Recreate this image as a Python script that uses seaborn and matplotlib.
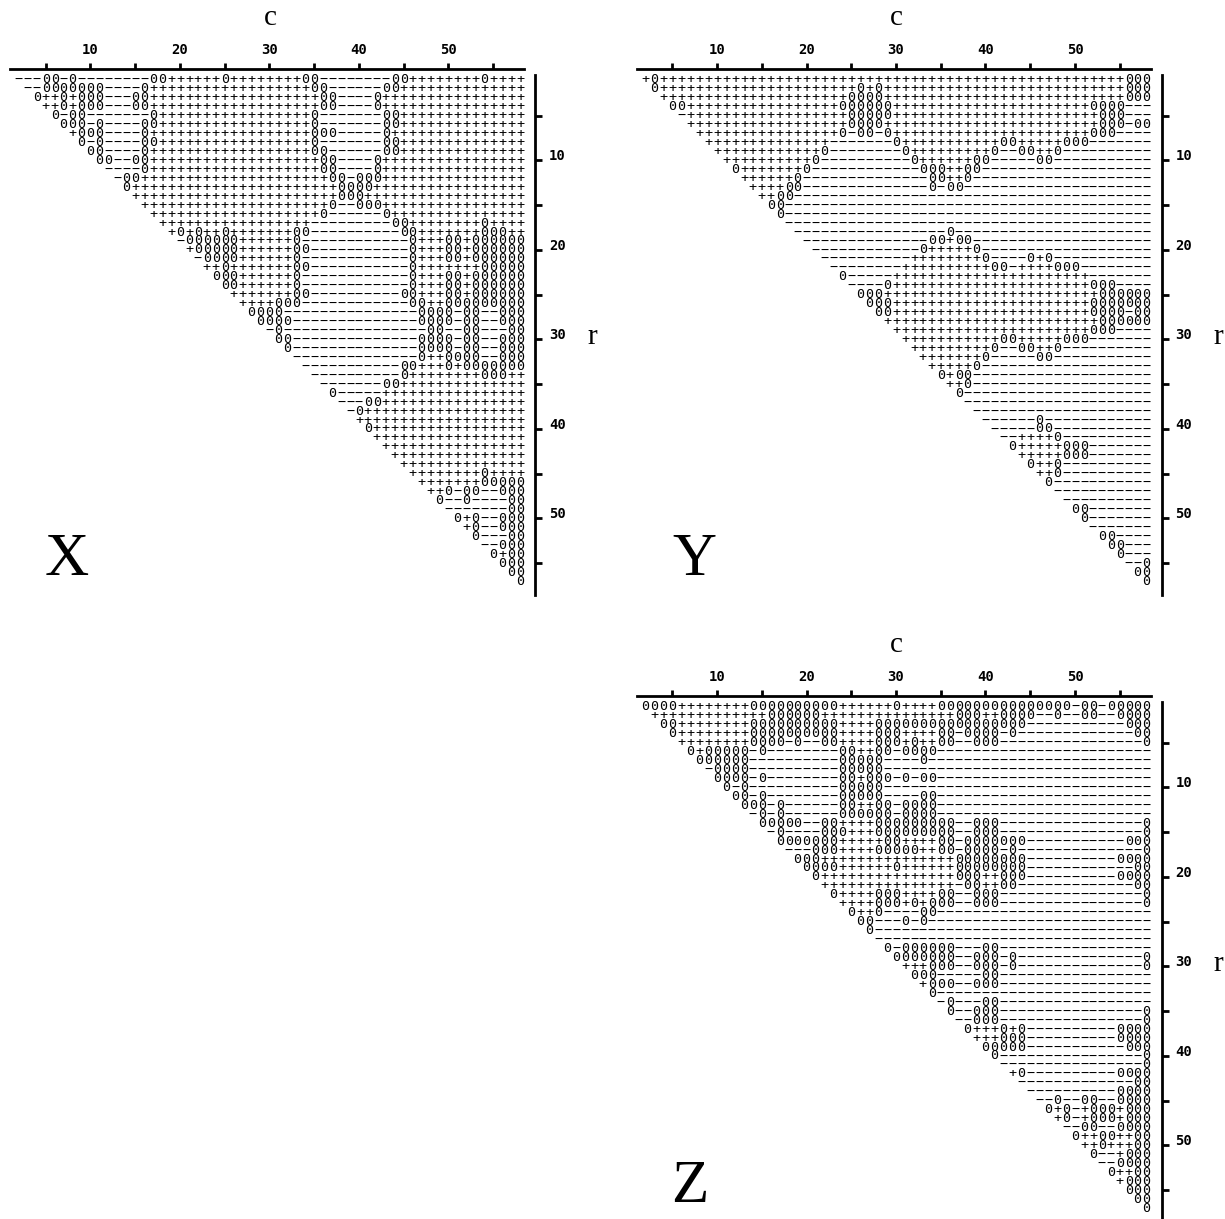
# Sign patterns of X, Y and Z over the upper triangle (r, c)
import numpy as np
import pandas as pd
import seaborn as sns
import matplotlib.pyplot as plt
from matplotlib.colors import ListedColormap

# each row is a list of runs: symbol then repeat count, row r starts at c = r + 1
x_rows = [
    "-3 02 -1 01 -8 02 +6 01 +8 02 -8 02 +8 01 +4", "-2 07 -4 01 +18 02 -6 02 +14",
    "01 +2 01 +1 03 -3 02 +19 02 -4 01 +16", "+2 01 +1 03 -3 02 +19 02 -4 01 +16",
    "01 -1 02 -7 01 +17 01 -7 02 +14", "03 -1 01 -4 02 +17 01 -7 02 +14",
    "+1 03 -4 01 +18 03 -5 01 +15", "01 -1 01 -4 02 +17 01 -7 02 +14",
    "02 -4 01 +18 02 -6 02 +14", "02 -2 02 +19 02 -4 01 +16",
    "-4 01 +19 02 -4 01 +16", "-1 02 +21 02 -1 03 +16",
    "01 +23 04 +17", "+23 03 +18", "+21 01 -2 03 +16", "+19 01 -6 01 +15",
    "+17 -9 02 +8 01 +4", "+1 01 +1 01 +2 01 +7 02 -10 02 +7 03 +2",
    "-1 06 +6 01 -12 01 +3 02 +1 06", "+1 05 +6 02 -11 01 +3 02 +1 06",
    "-1 04 +6 01 -12 01 +3 02 +1 06", "+2 01 +7 02 -11 01 +7 05",
    "03 +6 01 -12 01 +3 02 +1 06", "02 +6 01 -12 01 +3 02 +1 06",
    "+7 02 -10 02 +3 02 +1 06", "+4 03 -12 02 +2 09",
    "04 -15 04 -1 02 -2 03", "04 -14 04 -1 02 -2 03",
    "-1 01 -16 02 -2 02 -3 02", "02 -14 04 -1 02 -2 03",
    "01 -14 04 -1 02 -2 03", "-14 01 +2 04 -2 03",
    "-11 02 +3 01 +1 07", "-10 01 +8 03 +2", "-7 02 +14", "01 -5 +16",
    "-3 02 +16", "-1 01 +18", "+19", "01 +17", "+17", "+16", "+15", "+14",
    "+8 01 +4", "+7 05", "+2 01 -1 02 -2 03", "01 -2 01 -4 02", "-7 02",
    "01 +1 01 -2 03", "+1 01 -2 03", "01 -3 02", "-2 03", "01 +1 02", "03", "02", "01",
]
y_rows = [
    "+1 01 +52 03", "01 +22 01 +1 01 +27 03", "+21 04 +27 03", "02 +17 06 +22 04 -3",
    "-1 +18 05 +23 03 -3", "+18 04 +24 03 -1 02", "+16 01 -1 02 -1 01 +22 03 -4",
    "+14 -7 01 +11 02 +5 03 -7", "+12 01 -8 01 +9 01 -2 02 +2 01 -10",
    "+10 01 -10 01 +6 02 -5 02 -11", "01 +7 01 -12 03 +2 02 -19",
    "+6 01 -14 02 +2 01 -20", "+4 02 -14 01 -1 02 -21", "+2 02 -40", "02 -41", "01 -41",
    "-41", "-17 01 -22", "-14 02 +1 02 -20", "-12 01 +5 01 -19",
    "-10 +8 01 -4 01 +1 01 -11", "-8 +10 02 -1 +4 03 -8", "01 -5 +22 -7",
    "-4 01 +22 03 -4", "03 +24 06", "03 +22 07", "02 +22 04 -1 02", "+24 06",
    "+22 03 -4", "+11 02 +5 03 -7", "+9 01 -2 02 +2 01 -10", "+7 01 -5 02 -11",
    "+5 01 -19", "01 +1 02 -20", "+2 01 -20", "01 -21", "-21", "-20",
    "-6 01 -12", "-5 02 -11", "-2 +4 01 -10", "01 +5 03 -7", "+5 03 -7",
    "01 +2 01 -10", "+2 01 -10", "01 -11", "-11", "-10", "02 -7", "01 -7", "-7",
    "02 -4", "02 -3", "01 -3", "-2 01", "02", "01",
]
z_rows = [
    "04 +8 010 +6 01 +4 015 -1 02 -1 05", "+13 06 +15 03 +2 04 -2 01 -2 02 -2 04",
    "02 +8 010 +4 017 -11 03", "01 +8 010 +4 03 +4 02 -1 04 -1 01 -13 02",
    "+8 04 -1 01 -2 02 +4 03 +1 01 +2 02 -2 03 -16 01",
    "01 +1 05 -1 01 -8 02 +2 02 -1 04 -24", "06 -10 05 -4 01 -25", "-1 04 -10 05 -30",
    "04 -1 01 -8 02 +1 03 -1 01 -1 02 -24", "01 -1 01 -10 05 -30",
    "02 -1 01 -8 05 -4 02 -24", "03 -1 01 -6 02 +2 02 -1 04 -24",
    "-1 01 -1 01 -6 06 -1 04 -24", "05 -2 02 +4 09 -2 03 -16 01",
    "-1 01 -4 03 +3 09 -2 03 -16 01", "07 +5 02 +4 02 -1 07 -11 03",
    "-3 03 +4 05 +2 02 -1 04 -1 01 -14 01", "03 +15 08 -10 04",
    "04 +6 01 +6 08 -12 02", "01 +15 03 +2 03 -10 04", "+15 -1 02 +2 02 -13 02",
    "01 +4 03 +4 02 -2 03 -16 01", "+4 03 +1 01 +1 03 -2 03 -16 01",
    "01 +2 01 -4 02 -24", "02 -3 01 -1 01 -25", "01 -31", "-31",
    "01 -1 06 -3 02 -17", "07 -2 03 -1 01 -14 01", "+3 03 -2 03 -1 01 -14 01",
    "03 -5 02 -17", "+1 03 -2 03 -17", "01 -24", "-1 01 -3 02 -17",
    "01 -2 03 -16 01", "-2 03 -16 01", "01 +3 01 +1 01 -10 04", "+3 03 -10 04",
    "05 -11 03", "01 -16 01", "-16 01", "+1 01 -10 04", "-13 02", "-10 04",
    "-2 01 -2 02 -2 04", "01 +1 01 -1 +1 03 +1 03", "+1 01 -1 +1 03 +1 03",
    "-2 02 -2 04", "01 +2 02 +2 02", "+2 01 +3 02", "01 -2 +1 03", "-2 04",
    "01 +2 02", "+1 03", "03", "02", "01",
]
col_ticks = [5, 10, 15, 20, 25, 30, 35, 40, 45, 50, 55]
row_ticks = [5, 10, 15, 20, 25, 30, 35, 40, 45, 50, 55]

sns.set_style('white')
plt.rcParams['font.family'] = ['DejaVu Sans Mono']
plt.rcParams['text.color'] = 'black'
plt.rcParams['xtick.labelcolor'] = 'black'
plt.rcParams['ytick.labelcolor'] = 'black'

W, H = 1225, 1219
sign = {'+': 1, '0': 0, '-': -1}
shown = {'+': '+', '0': '0', '-': '\u2212'}


def sign_table(rows):
    values = np.full((57, 57), np.nan)
    labels = np.full((57, 57), '', dtype=object)
    for i, row in enumerate(rows):
        text = ''.join(tok[0] * int(tok[1:]) for tok in row.split())
        if len(text) != 57 - i:
            raise ValueError(f'row {i + 1} has {len(text)} cells')
        for j, ch in enumerate(text):
            values[i, i + j] = sign[ch]
            labels[i, i + j] = shown[ch]
    table = pd.DataFrame(values, index=range(1, 58), columns=range(2, 59))
    return table, labels


def panel(rows, dx, dy, name, name_xy):
    # axes box in pixels, heatmap cells sit at c - 1.5, r - 0.5
    ax = fig.add_axes([(10 + dx) / W, 1 - (595 + dy) / H, 525 / W, 525.7 / H])
    table, labels = sign_table(rows)
    sns.heatmap(table, annot=labels, fmt='', cmap=ListedColormap(['white']), cbar=False,
                annot_kws={'fontsize': 9.6, 'color': 'black'}, ax=ax)
    ax.set_xlim(-0.49, 58.18)
    ax.set_ylim(58.05, -0.68)
    ax.set_xlabel('')
    ax.set_ylabel('')
    ax.patch.set_alpha(0)

    for side in ['left', 'bottom']:
        ax.spines[side].set_visible(False)
    for side in ['top', 'right']:
        ax.spines[side].set_visible(True)
        ax.spines[side].set_linewidth(2)
        ax.spines[side].set_color('black')
    ax.spines['top'].set_bounds(-0.49, 56.97)
    ax.spines['right'].set_bounds(58.05, -0.05)

    ax.xaxis.tick_top()
    ax.yaxis.tick_right()
    ax.set_xticks([c - 1.5 for c in col_ticks])
    ax.set_xticklabels([str(c) if c % 10 == 0 else '' for c in col_ticks], rotation=0,
                       fontsize=10, fontweight='bold')
    ax.set_yticks([r - 0.5 for r in row_ticks])
    ax.set_yticklabels([str(r) if r % 10 == 0 else '' for r in row_ticks], rotation=0,
                       fontsize=10, fontweight='bold', va='baseline')
    ax.tick_params(axis='x', top=True, length=4.5, width=2, pad=4.5, color='black')
    ax.tick_params(axis='y', right=True, length=5, width=2, pad=5, color='black')

    serif = {'family': 'Liberation Serif', 'ha': 'center', 'va': 'center'}
    fig.text((270 + dx) / W, 1 - (18 + dy) / H, 'c', fontsize=21, **serif)
    fig.text((592 + dx) / W, 1 - (337 + dy) / H, 'r', fontsize=21, **serif)
    fig.text(name_xy[0] / W, 1 - name_xy[1] / H, name, fontsize=44, **serif)


fig = plt.figure(figsize=(W / 100, H / 100), dpi=100)
panel(x_rows, 0, 0, 'X', (67, 560))
panel(y_rows, 626.6, 0, 'Y', (694, 560))
panel(z_rows, 626.6, 627, 'Z', (690, 1187))
fig.savefig('out.png', dpi=100)
